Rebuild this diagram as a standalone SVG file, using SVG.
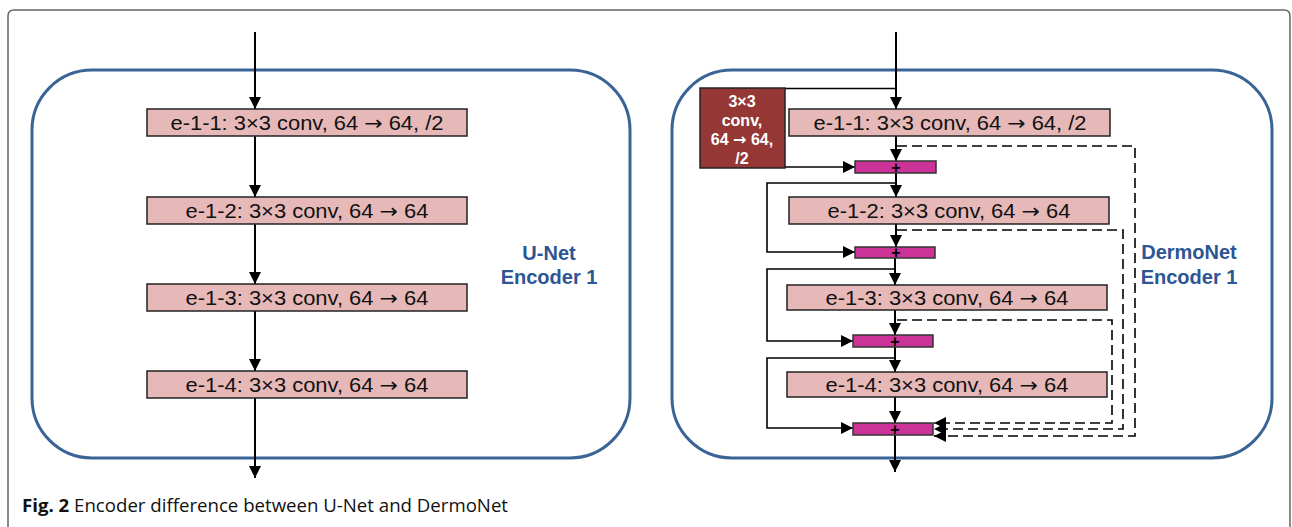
<svg xmlns="http://www.w3.org/2000/svg" width="1292" height="527" viewBox="0 0 1292 527">
  <defs>
    <marker id="arrow" viewBox="0 0 12 12" refX="12" refY="6" markerWidth="12" markerHeight="12" markerUnits="userSpaceOnUse" orient="auto">
      <path d="M0,0 L12,6 L0,12 Z" fill="#000"/>
    </marker>
    <style>
      .frame { fill: none; stroke: #666; stroke-width: 1.5; }
      .panel { fill: #fff; stroke: #3b6496; stroke-width: 3; }
      .conv { fill: #e6b9b8; stroke: #222; stroke-width: 1.5; }
      .down { fill: #953735; stroke: #222; stroke-width: 1.5; }
      .add { fill: #cc3399; stroke: #333; stroke-width: 1.5; }
      .wire { fill: none; stroke: #000; stroke-width: 2; }
      .skip { fill: none; stroke: #000; stroke-width: 1.6; }
      .dash { fill: none; stroke: #000; stroke-width: 1.6; stroke-dasharray: 10 5; }
      .label { font-family: "Liberation Sans", Arial, sans-serif; font-size: 20px; fill: #111; text-anchor: middle; }
      .arr { font-family: "DejaVu Sans", sans-serif; }
      .title { font-family: "Liberation Sans", Arial, sans-serif; font-size: 20px; font-weight: bold; fill: #2e5593; text-anchor: middle; }
      .small { font-family: "Liberation Sans", Arial, sans-serif; font-size: 16px; font-weight: bold; fill: #fff; text-anchor: middle; }
      .plus { font-family: "Liberation Sans", Arial, sans-serif; font-size: 16px; font-weight: bold; fill: #000; text-anchor: middle; }
      .caption { font-family: "Open Sans", "Noto Sans", sans-serif; font-size: 18.5px; fill: #111; }
    </style>
  </defs>

  <rect width="1292" height="527" fill="#fff"/>
  <path class="frame" d="M8,527 V16 Q8,10 14,10 H1284 Q1290,10 1290,16 V527"/>

  <!-- panel outlines -->
  <rect id="unet-panel" class="panel" x="32" y="70" width="598" height="388" rx="60" ry="60"/>
  <rect id="dermonet-panel" class="panel" x="672" y="70" width="600" height="388" rx="60" ry="60"/>

  <!-- U-Net encoder -->
  <g id="unet-connectors">
    <line class="wire" x1="255" y1="32" x2="255" y2="109" marker-end="url(#arrow)"/>
    <line class="wire" x1="255" y1="136" x2="255" y2="197" marker-end="url(#arrow)"/>
    <line class="wire" x1="255" y1="224" x2="255" y2="284" marker-end="url(#arrow)"/>
    <line class="wire" x1="255" y1="311" x2="255" y2="371" marker-end="url(#arrow)"/>
    <line class="wire" x1="255" y1="398" x2="255" y2="478" marker-end="url(#arrow)"/>
  </g>
  <g id="u-e-1-1">
    <rect class="conv" x="147" y="109" width="320" height="27"/>
    <text class="label" x="307" y="130" textLength="273" lengthAdjust="spacingAndGlyphs">e-1-1: 3×3 conv, 64 <tspan class="arr">→</tspan> 64, /2</text>
  </g>
  <g id="u-e-1-2">
    <rect class="conv" x="147" y="197" width="320" height="27"/>
    <text class="label" x="307" y="218" textLength="243" lengthAdjust="spacingAndGlyphs">e-1-2: 3×3 conv, 64 <tspan class="arr">→</tspan> 64</text>
  </g>
  <g id="u-e-1-3">
    <rect class="conv" x="147" y="284" width="320" height="27"/>
    <text class="label" x="307" y="305" textLength="243" lengthAdjust="spacingAndGlyphs">e-1-3: 3×3 conv, 64 <tspan class="arr">→</tspan> 64</text>
  </g>
  <g id="u-e-1-4">
    <rect class="conv" x="147" y="371" width="320" height="27"/>
    <text class="label" x="307" y="392" textLength="243" lengthAdjust="spacingAndGlyphs">e-1-4: 3×3 conv, 64 <tspan class="arr">→</tspan> 64</text>
  </g>
  <g id="unet-title">
    <text class="title" x="549" y="260">U-Net</text>
    <text class="title" x="549" y="284">Encoder 1</text>
  </g>

  <!-- DermoNet encoder -->
  <g id="dermonet-connectors">
    <!-- main path -->
    <line class="wire" x1="896" y1="32" x2="896" y2="109" marker-end="url(#arrow)"/>
    <line class="wire" x1="896" y1="136" x2="896" y2="161" marker-end="url(#arrow)"/>
    <line class="wire" x1="896" y1="173" x2="896" y2="197" marker-end="url(#arrow)"/>
    <line class="wire" x1="896" y1="224" x2="896" y2="247" marker-end="url(#arrow)"/>
    <line class="wire" x1="895" y1="258" x2="895" y2="285" marker-end="url(#arrow)"/>
    <line class="wire" x1="895" y1="310" x2="895" y2="335" marker-end="url(#arrow)"/>
    <line class="wire" x1="895" y1="347" x2="895" y2="372" marker-end="url(#arrow)"/>
    <line class="wire" x1="895" y1="397" x2="895" y2="423" marker-end="url(#arrow)"/>
    <line class="wire" x1="895" y1="435" x2="895" y2="472" marker-end="url(#arrow)"/>
    <!-- downsampling shortcut -->
    <polyline class="skip" points="896,88.5 785,88.5"/>
    <line class="skip" x1="785" y1="167" x2="855" y2="167" marker-end="url(#arrow)"/>
    <!-- residual loops on the left -->
    <polyline class="skip" points="896,183 767,183 767,252 855,252" marker-end="url(#arrow)"/>
    <polyline class="skip" points="895,269 767,269 767,341 853,341" marker-end="url(#arrow)"/>
    <polyline class="skip" points="895,358 767,358 767,428 853,428" marker-end="url(#arrow)"/>
    <!-- dense dashed links into the final sum -->
    <polyline class="dash" points="897,146 1135,146 1135,436 934,436" marker-end="url(#arrow)"/>
    <polyline class="dash" points="897,230 1123,230 1123,429 934,429" marker-end="url(#arrow)"/>
    <polyline class="dash" points="897,320 1112,320 1112,423 934,423" marker-end="url(#arrow)"/>
  </g>

  <g id="d-down">
    <rect class="down" x="700" y="88" width="85" height="80"/>
    <text class="small" x="742" y="107">3×3</text>
    <text class="small" x="742" y="126">conv,</text>
    <text class="small" x="742" y="145">64 <tspan class="arr">→</tspan> 64,</text>
    <text class="small" x="742" y="164">/2</text>
  </g>
  <g id="d-e-1-1">
    <rect class="conv" x="789" y="109" width="321" height="27"/>
    <text class="label" x="950" y="130" textLength="273" lengthAdjust="spacingAndGlyphs">e-1-1: 3×3 conv, 64 <tspan class="arr">→</tspan> 64, /2</text>
  </g>
  <g id="d-add-1">
    <rect class="add" x="855" y="161" width="81" height="12"/>
    <text class="plus" x="896" y="173">+</text>
  </g>
  <g id="d-e-1-2">
    <rect class="conv" x="789" y="197" width="320" height="27"/>
    <text class="label" x="949" y="218" textLength="243" lengthAdjust="spacingAndGlyphs">e-1-2: 3×3 conv, 64 <tspan class="arr">→</tspan> 64</text>
  </g>
  <g id="d-add-2">
    <rect class="add" x="855" y="247" width="80" height="11"/>
    <text class="plus" x="896" y="258">+</text>
  </g>
  <g id="d-e-1-3">
    <rect class="conv" x="787" y="285" width="320" height="25"/>
    <text class="label" x="947" y="305" textLength="243" lengthAdjust="spacingAndGlyphs">e-1-3: 3×3 conv, 64 <tspan class="arr">→</tspan> 64</text>
  </g>
  <g id="d-add-3">
    <rect class="add" x="853" y="335" width="80" height="12"/>
    <text class="plus" x="895" y="347">+</text>
  </g>
  <g id="d-e-1-4">
    <rect class="conv" x="787" y="372" width="320" height="25"/>
    <text class="label" x="947" y="392" textLength="243" lengthAdjust="spacingAndGlyphs">e-1-4: 3×3 conv, 64 <tspan class="arr">→</tspan> 64</text>
  </g>
  <g id="d-add-4">
    <rect class="add" x="853" y="423" width="80" height="12"/>
    <text class="plus" x="895" y="435">+</text>
  </g>
  <g id="dermonet-title">
    <text class="title" x="1189" y="259">DermoNet</text>
    <text class="title" x="1189" y="284">Encoder 1</text>
  </g>

  <text class="caption" x="22" y="512" textLength="486" lengthAdjust="spacingAndGlyphs"><tspan font-weight="bold">Fig. 2</tspan> Encoder difference between U-Net and DermoNet</text>
</svg>
